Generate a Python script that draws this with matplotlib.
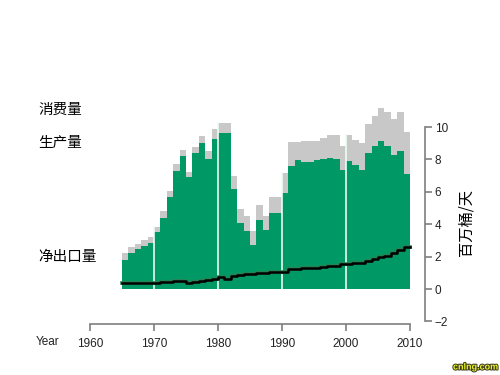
import matplotlib
matplotlib.use("Agg")
import matplotlib.pyplot as plt
import matplotlib.patheffects as pe
import numpy as np

plt.rcParams['font.family'] = ['Noto Sans CJK SC', 'DejaVu Sans']

years = list(range(1965, 2010))
total = [2.2, 2.6, 2.8, 3.0, 3.2, 3.85, 4.8, 6.07, 7.7, 8.6,
         7.25, 8.75, 9.45, 8.55, 9.85, 10.27, 10.27, 6.97, 4.96, 4.5,
         3.6, 5.2, 4.5, 5.7, 5.66, 7.14, 9.1, 9.1, 9.15, 9.15,
         9.13, 9.3, 9.5, 9.5, 8.8, 9.5, 9.2, 9.0, 10.2, 10.7,
         11.15, 10.9, 10.5, 10.9, 9.7]
green = [1.79, 2.2, 2.45, 2.65, 2.85, 3.5, 4.4, 5.65, 7.3, 8.2,
         6.9, 8.4, 9.0, 8.0, 9.25, 9.65, 9.6, 6.2, 4.05, 3.6,
         2.7, 4.26, 3.64, 4.7, 4.67, 5.95, 7.6, 7.96, 7.86, 7.86,
         7.96, 8.0, 8.1, 8.0, 7.35, 7.9, 7.65, 7.35, 8.4, 8.8,
         9.15, 8.8, 8.27, 8.5, 7.1]
line = [0.35, 0.37, 0.38, 0.38, 0.39, 0.40, 0.41, 0.43, 0.47, 0.50,
        0.38, 0.42, 0.52, 0.58, 0.64, 0.72, 0.60, 0.78, 0.85, 0.92,
        0.95, 0.98, 1.00, 1.02, 1.05, 1.08, 1.25, 1.22, 1.30, 1.28,
        1.32, 1.38, 1.42, 1.45, 1.52, 1.56, 1.60, 1.63, 1.72, 1.85,
        1.95, 2.05, 2.20, 2.40, 2.62]
xticks = [1960, 1970, 1980, 1990, 2000, 2010]
yticks = [-2, 0, 2, 4, 6, 8, 10]
decade_lines = [1970, 1980, 1990, 2000]

GREEN = '#009966'
GRAY = '#c8c8c8'
AXC = '#7f7f7f'
NUMFONT = ['Liberation Sans', 'DejaVu Sans']

fig = plt.figure(figsize=(5, 3.75), dpi=100)
ax = fig.add_axes([0.18, 0.136, 0.67, 0.6117])
ax.set_xlim(1960, 2012.34)
ax.set_ylim(-2.16, 12)

yrs = np.array(years)
ax.bar(yrs, total, width=1.0, align='edge', color=GRAY, linewidth=0)
ax.bar(yrs, green, width=1.0, align='edge', color=GREEN, linewidth=0)
for d in decade_lines:
    i = years.index(d)
    ax.plot([d, d], [0, max(total[i], total[i - 1])], color='#eafff2', lw=1.2, zorder=3)

lx = np.append(yrs, years[-1] + 1)
ly = line + [line[-1]]
ax.plot(lx, ly, drawstyle='steps-post', color='black', lw=1.8, zorder=4,
        path_effects=[pe.Stroke(linewidth=2.6, foreground='#2f7f52'), pe.Normal()])

for s in ['top', 'left']:
    ax.spines[s].set_visible(False)
ax.spines['right'].set_bounds(-2, 10)
ax.spines['bottom'].set_bounds(1960, 2010)
for s in ['right', 'bottom']:
    ax.spines[s].set_color(AXC)
    ax.spines[s].set_linewidth(1.2)
ax.yaxis.tick_right()
ax.set_yticks(yticks)
ax.set_yticklabels([str(v).replace('-', '\u2212') for v in yticks], fontsize=8.5,
                   family=NUMFONT)
ax.set_xticks(xticks)
ax.set_xticklabels([str(v) for v in xticks], fontsize=8.5, family=NUMFONT)
ax.tick_params(axis='both', colors=AXC, labelcolor='#222222', length=5, width=1.2, direction='out')
ax.tick_params(axis='y', pad=2)
ax.tick_params(axis='x', pad=5)

fig.text(38 / 500, 1 - 110 / 375, '消费量', fontsize=10.5, va='center', ha='left')
fig.text(38 / 500, 1 - 143 / 375, '生产量', fontsize=10.5, va='center', ha='left')
fig.text(38 / 500, 1 - 257 / 375, '净出口量', fontsize=10.5, va='center', ha='left')
fig.text(48 / 500, 1 - 342 / 375, 'Year', fontsize=8.5, va='center', ha='center',
         color='#222222', family=NUMFONT)
fig.text(466 / 500, 1 - 222 / 375, '百万桶/天', fontsize=11, va='center', ha='center', rotation=90)
fig.text(498 / 500, 1 - 367 / 375, 'cnlng.com', fontsize=6.5, va='center', ha='right',
         color='#e8f030', fontweight='bold', family=NUMFONT,
         path_effects=[pe.Stroke(linewidth=1.5, foreground='#404020'), pe.Normal()])

fig.savefig('out.png', dpi=100)
